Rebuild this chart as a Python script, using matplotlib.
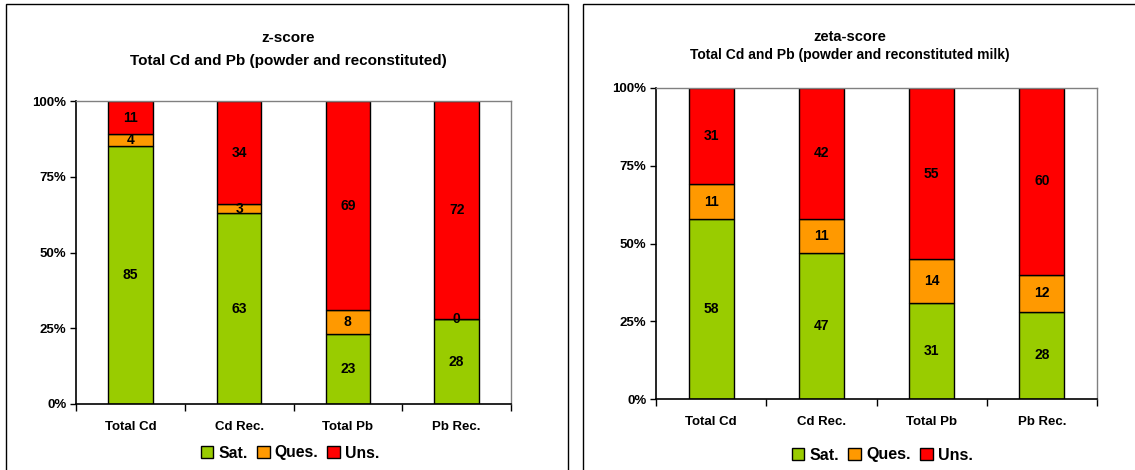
import matplotlib.pyplot as plt
from matplotlib.patches import Rectangle
import numpy as np

plt.rcParams['font.family'] = ['Liberation Sans', 'DejaVu Sans']

categories = ['Total Cd', 'Cd Rec.', 'Total Pb', 'Pb Rec.']
series_names = ['Sat.', 'Ques.', 'Uns.']
colors = ['#99CC00', '#FF9900', '#FF0000']

# z-score panel
z_sat = [85, 63, 23, 28]
z_ques = [4, 3, 8, 0]
z_uns = [11, 34, 69, 72]

# zeta-score panel
zeta_sat = [58, 47, 31, 28]
zeta_ques = [11, 11, 14, 12]
zeta_uns = [31, 42, 55, 60]

W, H = 1135, 470
fig = plt.figure(figsize=(W / 100, H / 100), dpi=100)


def px_axes(x0, y0, x1, y1):
    return fig.add_axes([x0 / W, 1 - y1 / H, (x1 - x0) / W, (y1 - y0) / H])


def draw_panel(ax, sat, ques, uns):
    x = np.arange(len(categories))
    bottom = np.zeros(len(categories))
    handles = []
    for vals, col, name in zip([sat, ques, uns], colors, series_names):
        vals = np.array(vals, dtype=float)
        b = ax.bar(x, vals, 0.41, bottom=bottom, color=col,
                   edgecolor='black', linewidth=1.0, label=name)
        handles.append(b)
        for xi, v, bt in zip(x, vals, bottom):
            ax.text(xi, bt + v / 2, '%d' % v, ha='center', va='center',
                    fontsize=10, fontweight='bold')
        bottom += vals
    ax.set_xlim(-0.5, len(categories) - 0.5)
    ax.set_ylim(0, 100)
    ax.set_yticks([0, 25, 50, 75, 100])
    ax.set_yticklabels(['0%', '25%', '50%', '75%', '100%'],
                       fontsize=9.5, fontweight='bold')
    ax.set_xticks(x)
    ax.set_xticklabels(categories, fontsize=9.5, fontweight='bold')
    ax.tick_params(axis='x', which='major', length=0, pad=12)
    ax.set_xticks(np.arange(-0.5, len(categories)), minor=True)
    ax.tick_params(axis='x', which='minor', length=5, width=1)
    ax.tick_params(axis='y', length=4, width=1, pad=3)
    for s in ['top', 'right']:
        ax.spines[s].set_color('#808080')
        ax.spines[s].set_linewidth(1.0)
    for s in ['left', 'bottom']:
        ax.spines[s].set_linewidth(1.2)
    return handles


# panel frames
fig.patches.append(Rectangle((6 / W, -0.01), 562 / W, 1 - 4 / H + 0.01,
                             transform=fig.transFigure, fill=False,
                             edgecolor='black', linewidth=1.0))
fig.patches.append(Rectangle((583 / W, -0.01), 560 / W, 1 - 4 / H + 0.01,
                             transform=fig.transFigure, fill=False,
                             edgecolor='black', linewidth=1.0))

ax1 = px_axes(76, 101, 511, 404)
h1 = draw_panel(ax1, z_sat, z_ques, z_uns)
fig.text(288 / W, 1 - 38 / H, 'z-score', ha='center', va='center',
         fontsize=11, fontweight='bold')
fig.text(288 / W, 1 - 61 / H, 'Total Cd and Pb (powder and reconstituted)',
         ha='center', va='center', fontsize=11, fontweight='bold')
fig.legend(h1, series_names, loc='center', bbox_to_anchor=(290 / W, 1 - 453 / H),
           ncol=3, frameon=False, handlelength=0.8, handleheight=0.8,
           handletextpad=0.3, columnspacing=0.6, borderpad=0,
           prop={'size': 11.3, 'weight': 'bold'})

ax2 = px_axes(656, 88, 1097, 399)
h2 = draw_panel(ax2, zeta_sat, zeta_ques, zeta_uns)
fig.text(850 / W, 1 - 37 / H, 'zeta-score', ha='center', va='center',
         fontsize=10.5, fontweight='bold')
fig.text(850 / W, 1 - 55 / H, 'Total Cd and Pb (powder and reconstituted milk)',
         ha='center', va='center', fontsize=10, fontweight='bold')
fig.legend(h2, series_names, loc='center', bbox_to_anchor=(882 / W, 1 - 455 / H),
           ncol=3, frameon=False, handlelength=0.8, handleheight=0.8,
           handletextpad=0.3, columnspacing=0.6, borderpad=0,
           prop={'size': 11.5, 'weight': 'bold'})

fig.savefig('out.png', dpi=100)
